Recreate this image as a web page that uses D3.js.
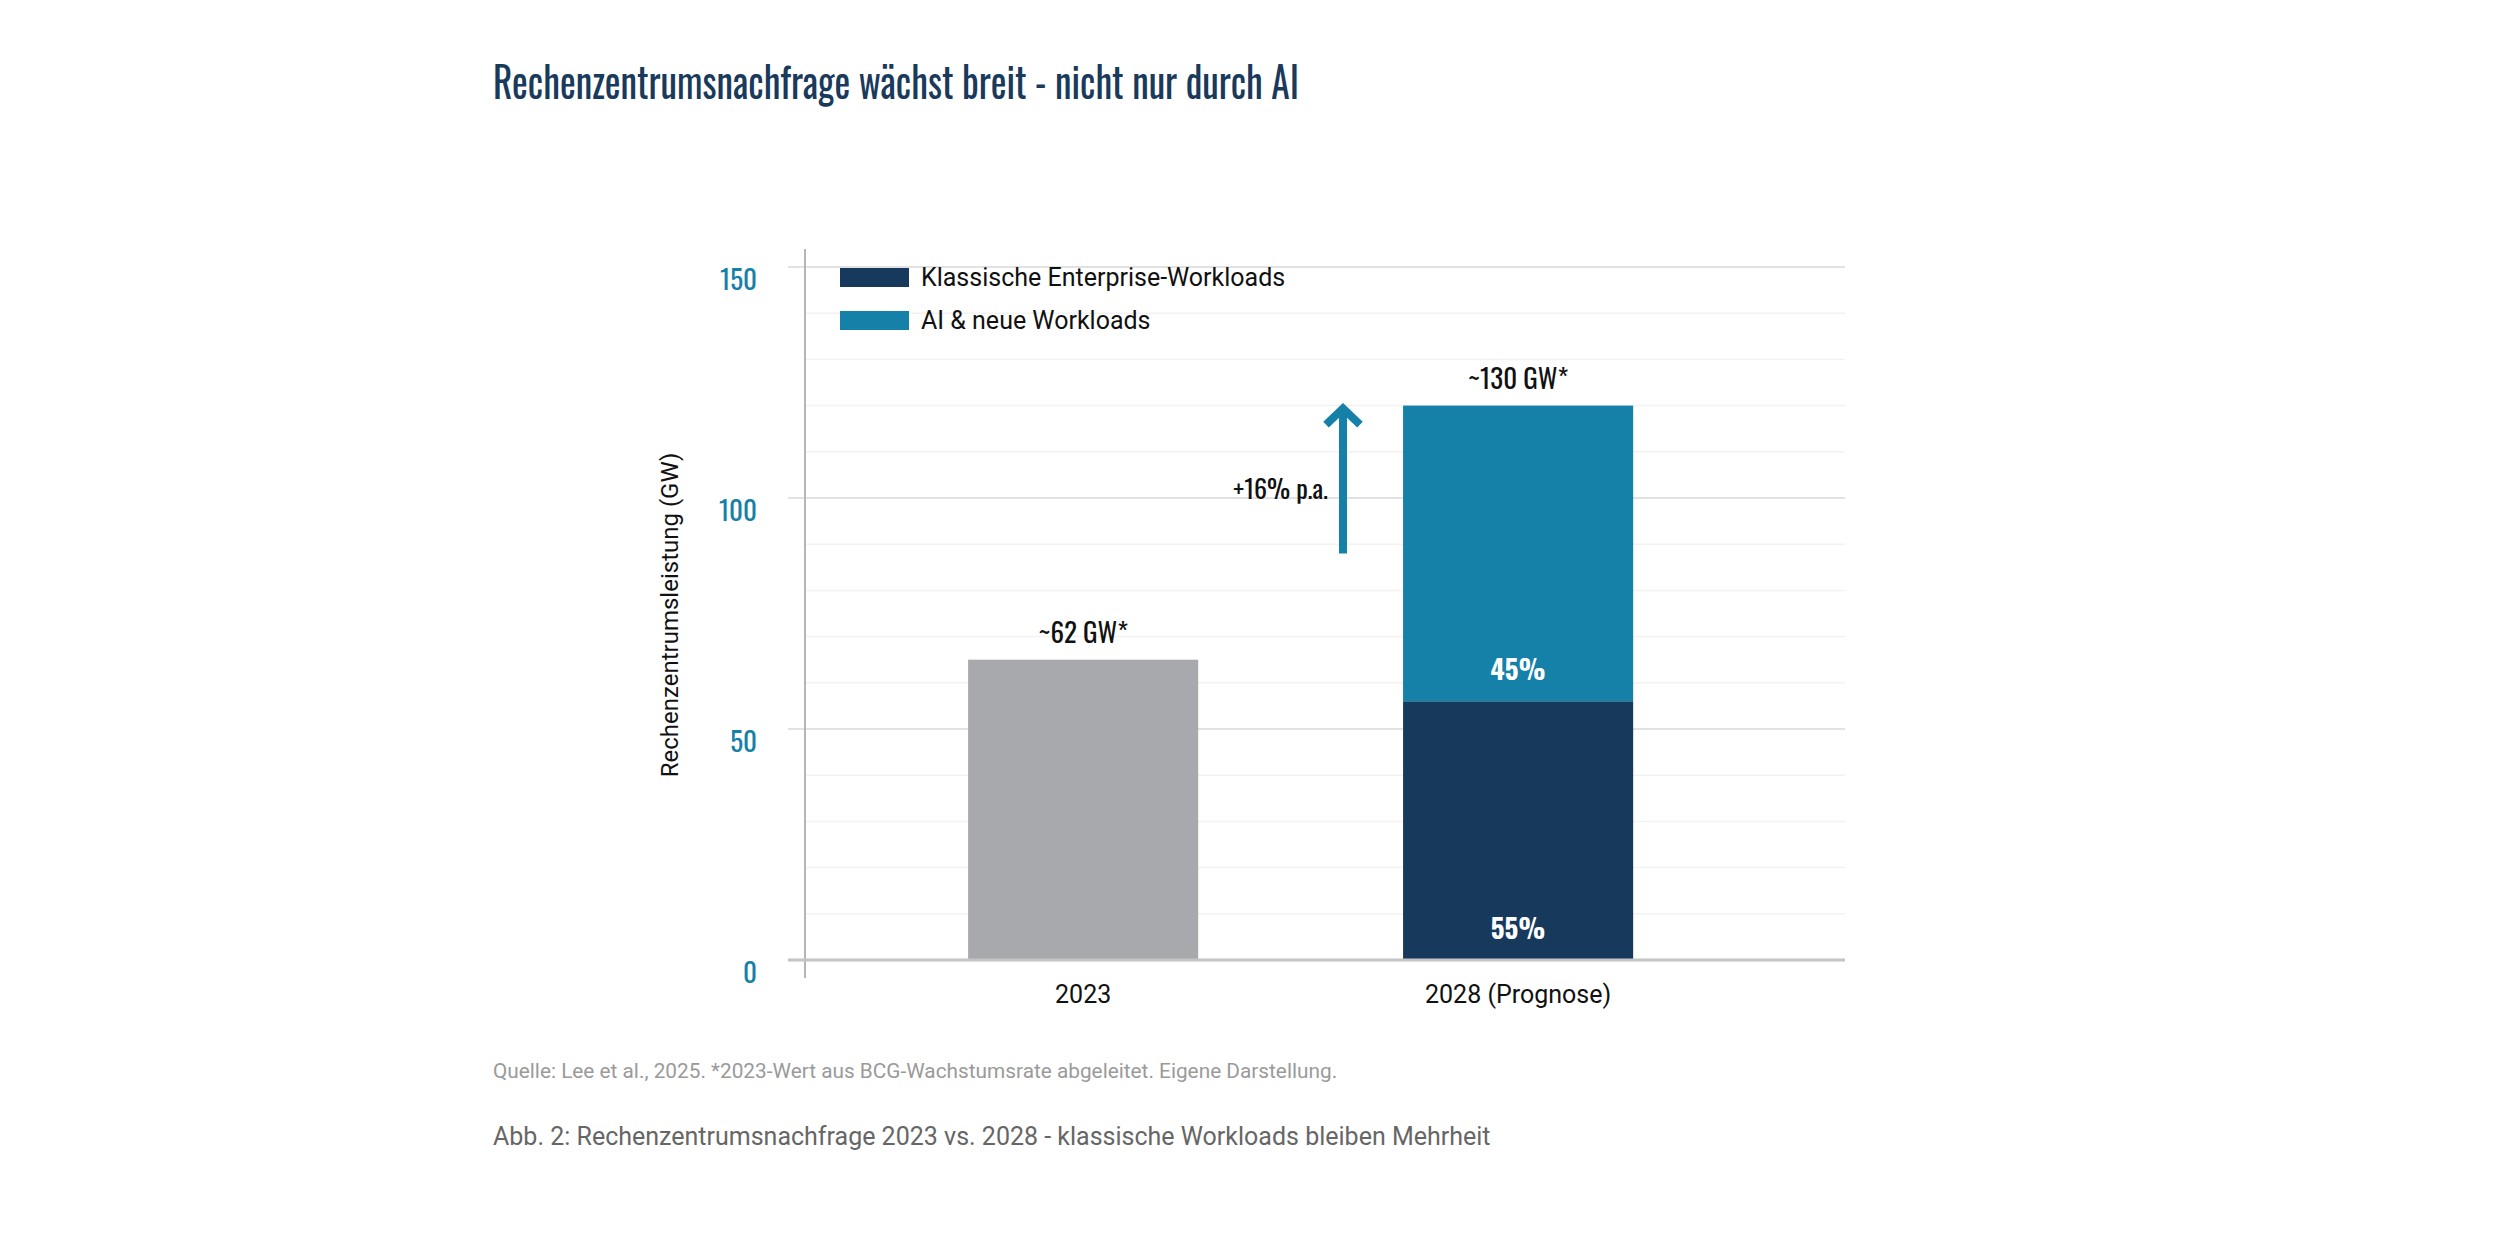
<!DOCTYPE html>
<html>
<head>
<meta charset="utf-8">
<script src="https://cdn.jsdelivr.net/npm/d3@7"></script>
<style>
  body { margin: 0; background: #fff; }
  .cond { font-family: "Oswald", "Liberation Sans Narrow", "DejaVu Sans Condensed", sans-serif; }
  .rob { font-family: Roboto, "Noto Sans", sans-serif; }
</style>
</head>
<body>
<div id="wrapper"></div>
<script>
// data
const categories = ["2023", "2028 (Prognose)"]
const totalValues = [65, null]          // 2023 single gray bar
const classicValues = [null, 56]        // Klassische Enterprise-Workloads
const aiValues = [null, 64]             // AI & neue Workloads
const topLabels = ["~62 GW*", "~130 GW*"]
const shareLabels = ["55%", "45%"]
const yTicks = [0, 50, 100, 150]
const yMinorTicks = [10, 20, 30, 40, 60, 70, 80, 90, 110, 120, 130, 140]
const legendItems = ["Klassische Enterprise-Workloads", "AI & neue Workloads"]
const growthLabel = "+16% p.a."
const arrowFrom = 88
const arrowTo = 120

const colors = {
  classic: "#173a5c",
  ai: "#1580a8",
  gray: "#a8a9ac",
  title: "#1a3a5c",
  tick: "#1580a8",
}

const dimensions = {
  width: 2500,
  height: 1250,
  plotLeft: 805,
  plotRight: 1845,
  plotTop: 267,
  plotBottom: 960,
}

const wrapper = d3.select("#wrapper")
  .append("svg")
  .attr("width", dimensions.width)
  .attr("height", dimensions.height)

// scales
const yScale = d3.scaleLinear()
  .domain([0, 150])
  .range([dimensions.plotBottom, dimensions.plotTop])

const xScale = d3.scaleBand()
  .domain(categories)
  .range([dimensions.plotLeft, dimensions.plotRight])
  .paddingInner(0.471)
  .paddingOuter(0.431)
  .align(0.435)

// gridlines
wrapper.append("g")
  .selectAll("line")
  .data(yMinorTicks)
  .join("line")
    .attr("x1", dimensions.plotLeft)
    .attr("x2", dimensions.plotRight)
    .attr("y1", d => yScale(d))
    .attr("y2", d => yScale(d))
    .attr("stroke", "#f2f2f2")
    .attr("stroke-width", 1.5)

wrapper.append("g")
  .selectAll("line")
  .data(yTicks.filter(d => d > 0))
  .join("line")
    .attr("x1", dimensions.plotLeft - 17)
    .attr("x2", dimensions.plotRight)
    .attr("y1", d => yScale(d))
    .attr("y2", d => yScale(d))
    .attr("stroke", "#e2e2e2")
    .attr("stroke-width", 2)

// y axis labels
const yAxisGenerator = d3.axisLeft(yScale)
  .tickValues(yTicks)
  .tickSize(0)
  .tickPadding(0)

const yAxis = wrapper.append("g")
  .attr("transform", `translate(${dimensions.plotLeft - 48},8)`)
  .call(yAxisGenerator)
yAxis.select(".domain").remove()
yAxis.selectAll("text")
  .attr("class", "cond")
  .attr("font-size", 27)
  .attr("fill", colors.tick)
  .attr("dy", "0.55em")

// bars
const g = wrapper.append("g")

g.selectAll(".bar-total")
  .data(categories.filter((c, i) => totalValues[i] != null))
  .join("rect")
    .attr("x", d => xScale(d))
    .attr("width", xScale.bandwidth())
    .attr("y", d => yScale(totalValues[categories.indexOf(d)]))
    .attr("height", d => yScale(0) - yScale(totalValues[categories.indexOf(d)]))
    .attr("fill", colors.gray)

const stackData = categories.map((c, i) => ({ cat: c, classic: classicValues[i] || 0, ai: aiValues[i] || 0 }))
  .filter(d => d.classic + d.ai > 0)
const series = d3.stack().keys(["classic", "ai"])(stackData)

g.selectAll(".layer")
  .data(series)
  .join("g")
    .attr("fill", d => colors[d.key])
  .selectAll("rect")
  .data(d => d)
  .join("rect")
    .attr("x", d => xScale(d.data.cat))
    .attr("width", xScale.bandwidth())
    .attr("y", d => yScale(d[1]))
    .attr("height", d => yScale(d[0]) - yScale(d[1]))

// share labels inside the stacked bar
series.forEach((s, si) => {
  s.forEach(d => {
    wrapper.append("text")
      .attr("class", "cond")
      .attr("x", xScale(d.data.cat) + xScale.bandwidth() / 2)
      .attr("y", yScale(d[0]) - 21)
      .attr("text-anchor", "middle")
      .attr("font-size", 27)
      .attr("font-weight", "bold")
      .attr("fill", "#fff")
      .text(shareLabels[si])
  })
})

// total labels above bars
const totals = categories.map((c, i) => totalValues[i] != null ? totalValues[i] : classicValues[i] + aiValues[i])
wrapper.selectAll(".top-label")
  .data(categories)
  .join("text")
    .attr("class", "cond")
    .attr("x", d => xScale(d) + xScale.bandwidth() / 2)
    .attr("y", (d, i) => yScale(totals[i]) - 17)
    .attr("text-anchor", "middle")
    .attr("font-size", 27)
    .attr("fill", "#111")
    .text((d, i) => topLabels[i])

// axes lines
wrapper.append("line")
  .attr("x1", dimensions.plotLeft)
  .attr("x2", dimensions.plotLeft)
  .attr("y1", 249)
  .attr("y2", 978)
  .attr("stroke", "#b5b5b5")
  .attr("stroke-width", 2)

wrapper.append("line")
  .attr("x1", dimensions.plotLeft - 17)
  .attr("x2", dimensions.plotRight)
  .attr("y1", yScale(0))
  .attr("y2", yScale(0))
  .attr("stroke", "#c4c4c4")
  .attr("stroke-width", 3)

// x axis labels
const xAxisGenerator = d3.axisBottom(xScale).tickSize(0).tickPadding(0)
const xAxis = wrapper.append("g")
  .attr("transform", `translate(0,${yScale(0) + 25})`)
  .call(xAxisGenerator)
xAxis.select(".domain").remove()
xAxis.selectAll("text")
  .attr("class", "rob")
  .attr("font-size", 25)
  .attr("fill", "#111")

// y axis title
wrapper.append("text")
  .attr("class", "rob")
  .attr("transform", `translate(678,615) rotate(-90)`)
  .attr("text-anchor", "middle")
  .attr("font-size", 24)
  .attr("fill", "#111")
  .text("Rechenzentrumsleistung (GW)")

// growth arrow
const arrowX = 1343
const arrow = wrapper.append("g")
  .attr("stroke", colors.ai)
  .attr("stroke-width", 8)
  .attr("fill", "none")
arrow.append("line")
  .attr("x1", arrowX).attr("x2", arrowX)
  .attr("y1", yScale(arrowFrom)).attr("y2", yScale(arrowTo) + 3)
arrow.append("polyline")
  .attr("points", `${arrowX - 17},${yScale(arrowTo) + 19} ${arrowX},${yScale(arrowTo) + 3} ${arrowX + 17},${yScale(arrowTo) + 19}`)

wrapper.append("text")
  .attr("class", "cond")
  .attr("x", 1328)
  .attr("y", 499)
  .attr("text-anchor", "end")
  .attr("font-size", 26)
  .attr("fill", "#111")
  .text(growthLabel)

// legend
const legend = wrapper.append("g")
legend.selectAll("rect")
  .data(legendItems)
  .join("rect")
    .attr("x", 840)
    .attr("y", (d, i) => 268 + i * 43)
    .attr("width", 69)
    .attr("height", 19)
    .attr("fill", (d, i) => i == 0 ? colors.classic : colors.ai)
legend.selectAll("text")
  .data(legendItems)
  .join("text")
    .attr("class", "rob")
    .attr("x", 921)
    .attr("y", (d, i) => 286 + i * 43)
    .attr("font-size", 25)
    .attr("fill", "#111")
    .text(d => d)

// title
wrapper.append("text")
  .attr("class", "cond")
  .attr("x", 493)
  .attr("y", 99)
  .attr("font-size", 42)
  .attr("fill", colors.title)
  .attr("textLength", 806)
  .attr("lengthAdjust", "spacingAndGlyphs")
  .text("Rechenzentrumsnachfrage wächst breit - nicht nur durch AI")

// source + caption
wrapper.append("text")
  .attr("class", "rob")
  .attr("x", 493)
  .attr("y", 1078)
  .attr("font-size", 20.8)
  .attr("fill", "#9a9a9a")
  .text("Quelle: Lee et al., 2025. *2023-Wert aus BCG-Wachstumsrate abgeleitet. Eigene Darstellung.")

wrapper.append("text")
  .attr("class", "rob")
  .attr("x", 493)
  .attr("y", 1145)
  .attr("font-size", 25)
  .attr("fill", "#666")
  .text("Abb. 2: Rechenzentrumsnachfrage 2023 vs. 2028 - klassische Workloads bleiben Mehrheit")
</script>
</body>
</html>
